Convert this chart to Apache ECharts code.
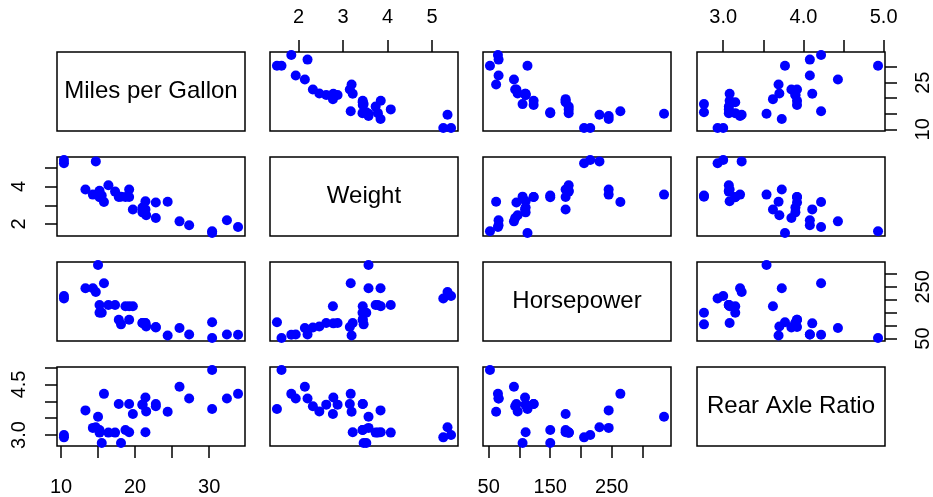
<!DOCTYPE html>
<html><head><meta charset="utf-8">
<script src="https://cdn.jsdelivr.net/npm/echarts@6/dist/echarts.min.js"></script>
<style>html,body{margin:0;padding:0;background:#fff}#c{width:933px;height:497px}</style>
</head><body><div id="c"></div>
<script>
// mtcars variables
const varNames = ['Miles per Gallon', 'Weight', 'Horsepower', 'Rear Axle Ratio'];
const mpg  = [21.0,21.0,22.8,21.4,18.7,18.1,14.3,24.4,22.8,19.2,17.8,16.4,17.3,15.2,10.4,10.4,14.7,32.4,30.4,33.9,21.5,15.5,15.2,13.3,19.2,27.3,26.0,30.4,15.8,19.7,15.0,21.4];
const wt   = [2.620,2.875,2.320,3.215,3.440,3.460,3.570,3.190,3.150,3.440,3.440,4.070,3.730,3.780,5.250,5.424,5.345,2.200,1.615,1.835,2.465,3.520,3.435,3.840,3.845,1.935,2.140,1.513,3.170,2.770,3.570,2.780];
const hp   = [110,110,93,110,175,105,245,62,95,123,123,180,180,180,205,215,230,66,52,65,97,150,150,245,175,66,91,113,264,175,335,109];
const drat = [3.90,3.90,3.85,3.08,3.15,2.76,3.21,3.69,3.92,3.92,3.92,3.07,3.07,3.07,2.93,3.00,3.23,4.08,4.93,4.22,3.70,2.76,3.15,3.73,3.08,4.08,4.43,3.77,4.22,3.62,3.54,4.11];

// tick positions and shown tick labels
const mpgTicks = [10,15,20,25,30];
const mpgLabelsBottom = [10,20,30];
const mpgLabelsRight = [10,25];
const wtTicks = [2,3,4,5];
const wtLabelsTop = [2,3,4,5];
const wtLabelsLeft = [2,4];
const hpTicks = [50,100,150,200,250,300];
const hpLabelsBottom = [50,150,250];
const hpLabelsRight = [50,250];
const dratTicks = [3.0,3.5,4.0,4.5,5.0];
const dratLabelsTop = [3.0,4.0,5.0];
const dratLabelsLeft = [3.0,4.5];

const vars = [
  {data: mpg,  ticks: mpgTicks,  labA: mpgLabelsBottom, labB: mpgLabelsRight, fmt: v => String(v)},
  {data: wt,   ticks: wtTicks,   labA: wtLabelsTop,     labB: wtLabelsLeft,   fmt: v => String(v)},
  {data: hp,   ticks: hpTicks,   labA: hpLabelsBottom,  labB: hpLabelsRight,  fmt: v => String(v)},
  {data: drat, ticks: dratTicks, labA: dratLabelsTop,   labB: dratLabelsLeft, fmt: v => Number(v).toFixed(1)}
];
vars.forEach(v => {
  const lo = Math.min(...v.data), hi = Math.max(...v.data), r = hi - lo;
  v.min = lo - 0.04 * r; v.max = hi + 0.04 * r;
});

// layout
const colX = [57, 270, 483, 697], panelW = 188;
const rowY = [52, 157, 262, 367], panelH = 79;
const FONT = 'Liberation Sans, Arial, Helvetica, sans-serif';

const grids = [], xAxes = [], yAxes = [], series = [];

for (let i = 0; i < 4; i++) {
  for (let j = 0; j < 4; j++) {
    const k = i * 4 + j;
    grids.push({left: colX[j], top: rowY[i], width: panelW, height: panelH,
      show: true, borderColor: '#000', borderWidth: 1.5, backgroundColor: 'transparent', containLabel: false});
    if (i === j) {
      xAxes.push({gridIndex: k, type: 'value', min: 0, max: 1, show: false});
      yAxes.push({gridIndex: k, type: 'value', min: 0, max: 1, show: false});
      series.push({type: 'scatter', xAxisIndex: k, yAxisIndex: k, symbolSize: 0, silent: true,
        itemStyle: {color: '#000'},
        data: [[0.5, 0.5]],
        label: {show: true, position: 'inside', formatter: varNames[i], fontSize: 24, color: '#000',
          textBorderWidth: 0, textBorderColor: 'transparent', opacity: 1, fontFamily: FONT}});
      continue;
    }
    const vx = vars[j], vy = vars[i];
    // x axis
    let xa = {gridIndex: k, type: 'value', min: vx.min, max: vx.max, splitLine: {show: false}};
    const showBottom = (i === 3 && (j === 0 || j === 2));
    const showTop = (i === 0 && (j === 1 || j === 3));
    if (showBottom || showTop) {
      Object.assign(xa, {show: true, position: showBottom ? 'bottom' : 'top',
        axisLine: {show: false},
        axisTick: {show: true, customValues: vx.ticks, length: 12, lineStyle: {color: '#000', width: 1.5}},
        axisLabel: {show: true, customValues: vx.labA, formatter: vx.fmt, margin: showBottom ? 31 : 25,
          fontSize: 20, color: '#000', fontFamily: FONT}});
    } else xa.show = false;
    xAxes.push(xa);
    // y axis
    let ya = {gridIndex: k, type: 'value', min: vy.min, max: vy.max, splitLine: {show: false}};
    const showLeft = (j === 0 && (i === 1 || i === 3));
    const showRight = (j === 3 && (i === 0 || i === 2));
    if (showLeft || showRight) {
      Object.assign(ya, {show: true, position: showLeft ? 'left' : 'right',
        axisLine: {show: false},
        axisTick: {show: true, customValues: vy.ticks, length: 12, lineStyle: {color: '#000', width: 1.5}},
        axisLabel: {show: true, customValues: vy.labB, formatter: vy.fmt, rotate: 90, margin: 28,
          fontSize: 20, color: '#000', fontFamily: FONT}});
    } else ya.show = false;
    yAxes.push(ya);
    series.push({type: 'scatter', xAxisIndex: k, yAxisIndex: k, symbol: 'circle', symbolSize: 10,
      clip: true, silent: true,
      itemStyle: {color: '#0000FF', opacity: 1},
      data: vx.data.map((x, n) => [x, vy.data[n]])});
  }
}

const chart = echarts.init(document.getElementById('c'), null, {renderer: 'canvas'});
chart.setOption({animation: false, backgroundColor: '#fff', grid: grids, xAxis: xAxes, yAxis: yAxes, series: series});
</script>
</body></html>
